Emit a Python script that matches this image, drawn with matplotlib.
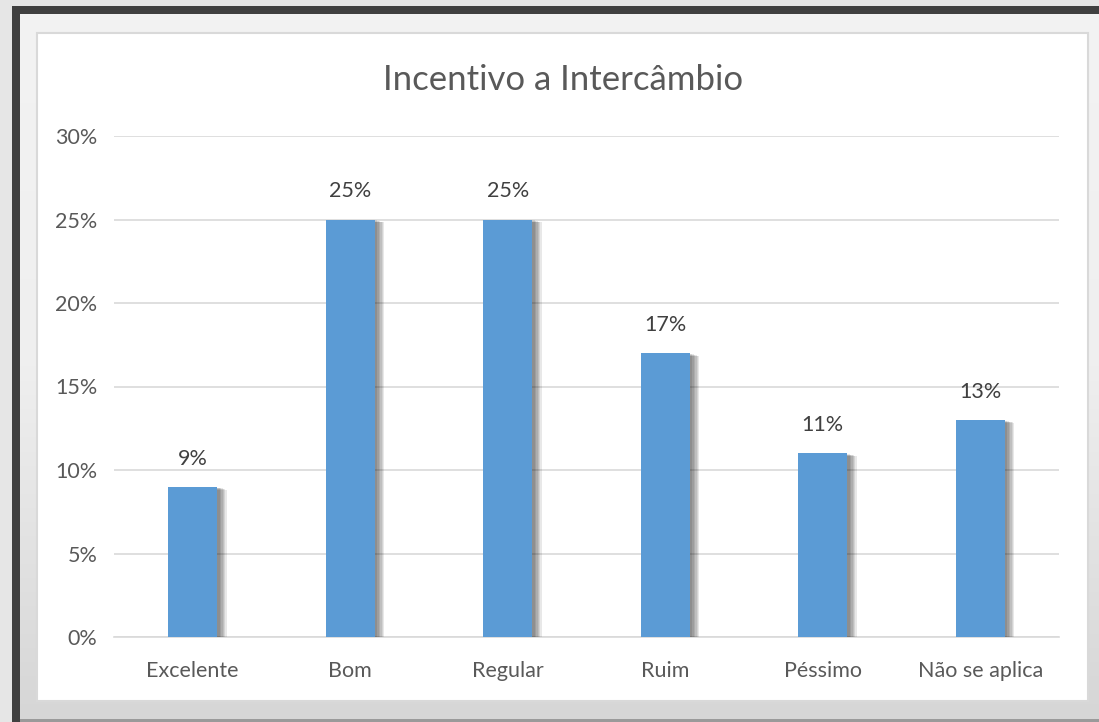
import matplotlib
matplotlib.use("Agg")
import matplotlib.pyplot as plt
from matplotlib.patches import Rectangle
import matplotlib.patheffects as pe
from matplotlib.ticker import FuncFormatter
import numpy as np

categories = ["Excelente", "Bom", "Regular", "Ruim", "Péssimo", "Não se aplica"]
values = [0.09, 0.25, 0.25, 0.17, 0.11, 0.13]
labels = ["9%", "25%", "25%", "17%", "11%", "13%"]
title = "Incentivo a Intercâmbio"

W, H = 1099, 722
fig = plt.figure(figsize=(W / 100, H / 100), dpi=100)
fig.patch.set_facecolor("#e6e6e6")
plt.rcParams['font.family'] = ['Lato', 'DejaVu Sans']

def fbox(x0, y0, x1, y1):
    return [x0 / W, 1 - y1 / H, (x1 - x0) / W, (y1 - y0) / H]

def rect(x0, y0, x1, y1, **kw):
    b = fbox(x0, y0, x1, y1)
    r = Rectangle((b[0], b[1]), b[2], b[3], transform=fig.transFigure, **kw)
    fig.add_artist(r)
    return r

# gradient background inside frame
bg = fig.add_axes(fbox(20, 14, W, 720))
bg.set_zorder(0)
grad = np.linspace(0, 1, 256).reshape(-1, 1)
bg.imshow(grad, aspect="auto", cmap=matplotlib.colors.LinearSegmentedColormap.from_list(
    "g", ["#f3f3f3", "#efefef", "#d6d6d6"]), extent=[0, 1, 0, 1], origin="upper")
bg.axis("off")

# dark frame bands
rect(12, 6, W, 14, facecolor="#404040", edgecolor="none", zorder=1)
rect(12, 6, 20, H, facecolor="#404040", edgecolor="none", zorder=1)
rect(20, 719, W, H, facecolor="#9a9a9a", edgecolor="none", zorder=1)

# white chart panel
rect(37, 33, 1088, 701, facecolor="white", edgecolor="#d9d9d9", linewidth=1.5, zorder=1)

ax = fig.add_axes(fbox(114, 136, 1059, 637))
ax.set_zorder(2)
ax.patch.set_alpha(0)

x = list(range(len(categories)))
shadow = [pe.SimplePatchShadow(offset=(o, -o * 0.3), shadow_rgbFace="black", alpha=0.09)
          for o in (7, 6, 5, 4, 3, 2)]
bars = ax.bar(x, values, width=0.31, color="#5b9bd5", zorder=3,
              path_effects=shadow + [pe.Normal()])

for xi, v, lab in zip(x, values, labels):
    ax.annotate(lab, (xi, v), xytext=(0, 13), textcoords="offset points",
                ha="center", va="bottom", fontsize=15.5, color="#404040")

ax.set_ylim(0, 0.30)
ax.set_xlim(-0.5, len(categories) - 0.5)
ax.set_yticks([0, 0.05, 0.10, 0.15, 0.20, 0.25, 0.30])
ax.yaxis.set_major_formatter(FuncFormatter(lambda v, p: f"{round(v * 100)}%"))
ax.set_xticks(x)
ax.set_xticklabels(categories)
ax.grid(axis="y", color="#d9d9d9", linewidth=1.2, zorder=0)
ax.set_axisbelow(True)
for s in ["top", "right", "left"]:
    ax.spines[s].set_visible(False)
ax.spines["bottom"].set_color("#d9d9d9")
ax.spines["bottom"].set_linewidth(1.2)
ax.tick_params(axis="both", length=0, labelsize=15.5, labelcolor="#595959")
ax.tick_params(axis="y", pad=12)
ax.tick_params(axis="x", pad=17)

fig.text((384 + 742) / 2 / W, 1 - 80 / H, title, ha="center", va="center",
         fontsize=25, color="#595959")

fig.savefig("out.png", dpi=100, facecolor=fig.get_facecolor())
